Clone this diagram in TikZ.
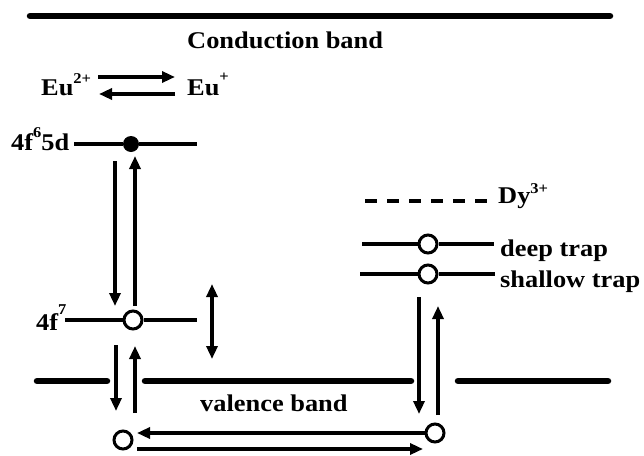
\documentclass[tikz,border=0pt]{standalone}
\usepackage{fontspec}
\setmainfont{Liberation Serif}[FakeStretch=1.1]
\usetikzlibrary{arrows.meta}
\newcommand\supr[2][12pt]{\raisebox{#1}{\fontsize{15}{15}\selectfont #2}}
\begin{document}
\begin{tikzpicture}[x=1pt,y=-1pt,
  band/.style={line width=6.5pt,line cap=round},
  lvl/.style={line width=3.4pt},
  arr/.style={line width=3.2pt,-{Triangle[length=13pt,width=11pt]}},
  darr/.style={line width=3.2pt,{Triangle[length=13pt,width=11pt]}-{Triangle[length=13pt,width=11pt]}},
  ocirc/.style={circle,draw,line width=3pt,fill=white,minimum size=18pt,inner sep=0pt},
  fcirc/.style={circle,fill=black,minimum size=16pt,inner sep=0pt},
  lbl/.style={font=\bfseries\fontsize{24}{26}\selectfont,inner sep=0pt,anchor=base west}]
\useasboundingbox[fill=white] (0,0) rectangle (644,455);

% conduction band
\coordinate (cbL) at (30,16); \coordinate (cbR) at (610,16);
\draw[band] (cbL) -- (cbR);
\node[lbl] (cbt) at (187,48) {Conduction band};

% Eu equilibrium
\node[lbl] (eu2) at (41,95) {Eu\supr{2+}};
\node[lbl] (eu1) at (187,95) {Eu\supr[14pt]{+}};
\coordinate (ea1) at (98,77); \coordinate (ea2) at (175,77);
\coordinate (eb1) at (175,94); \coordinate (eb2) at (99,94);
\draw[arr] (ea1) -- (ea2);
\draw[arr] (eb1) -- (eb2);

% 4f65d level
\node[lbl] (l5d) at (11,150) {4f\supr[13pt]{6}5d};
\node[fcirc] (dot) at (131,144) {};
\coordinate (a1) at (74,144); \coordinate (a2) at (197,144);
\draw[lvl] (a1) -- (dot) -- (a2);

% 4f7 level
\node[lbl] (l4f7) at (36,330) {4f\supr[16pt]{7}};
\node[ocirc] (o7) at (133,320) {};
\coordinate (b1) at (65,320); \coordinate (b2) at (197,320);
\draw[lvl] (b1) -- (o7) -- (b2);

% transitions 4f7 <-> 4f65d
\coordinate (v1s) at (115,161); \coordinate (v1e) at (115,306);
\coordinate (v2s) at (135,306); \coordinate (v2e) at (135,156);
\draw[arr] (v1s) -- (v1e);
\draw[arr] (v2s) -- (v2e);

% double arrow
\coordinate (w1) at (212,284); \coordinate (w2) at (212,359);
\draw[darr] (w1) -- (w2);

% valence band
\coordinate (vb1) at (37,381); \coordinate (vb2) at (107,381);
\coordinate (vb3) at (145,381); \coordinate (vb4) at (411,381);
\coordinate (vb5) at (458,381); \coordinate (vb6) at (608,381);
\draw[band] (vb1) -- (vb2);
\draw[band] (vb3) -- (vb4);
\draw[band] (vb5) -- (vb6);
\node[lbl] (vbt) at (200,411) {valence band};

% transitions 4f7 <-> valence band
\coordinate (u1s) at (116,345); \coordinate (u1e) at (116,411);
\coordinate (u2s) at (135,413); \coordinate (u2e) at (135,346);
\draw[arr] (u1s) -- (u1e);
\draw[arr] (u2s) -- (u2e);

% holes in valence band
\node[ocirc] (h1) at (123,440) {};
\node[ocirc] (h2) at (435,433) {};
\coordinate (t1) at (137,433);
\draw[arr] (h2.west) -- (t1);
\coordinate (r1) at (137,449); \coordinate (r2) at (423,449);
\draw[arr] (r1) -- (r2);

% Dy level
\coordinate (dy1) at (365,201); \coordinate (dy2) at (488,201);
\draw[lvl,dash pattern=on 12pt off 10pt] (dy1) -- (dy2);
\node[lbl] (dyt) at (498,203) {Dy\supr[10pt]{3+}};

% deep trap
\node[ocirc] (dt) at (428,244) {};
\coordinate (d1) at (362,244); \coordinate (d2) at (494,244);
\draw[lvl] (d1) -- (dt) -- (d2);
\node[lbl] (dtt) at (500,256) {deep trap};

% shallow trap
\node[ocirc] (st) at (428,274) {};
\coordinate (s1) at (360,274); \coordinate (s2) at (495,274);
\draw[lvl] (s1) -- (st) -- (s2);
\node[lbl] (stt) at (500,287) {shallow trap};

% transitions traps <-> valence band
\coordinate (x1s) at (419,297); \coordinate (x1e) at (419,414);
\coordinate (x2s) at (438,415); \coordinate (x2e) at (438,306);
\draw[arr] (x1s) -- (x1e);
\draw[arr] (x2s) -- (x2e);
\end{tikzpicture}
\end{document}
